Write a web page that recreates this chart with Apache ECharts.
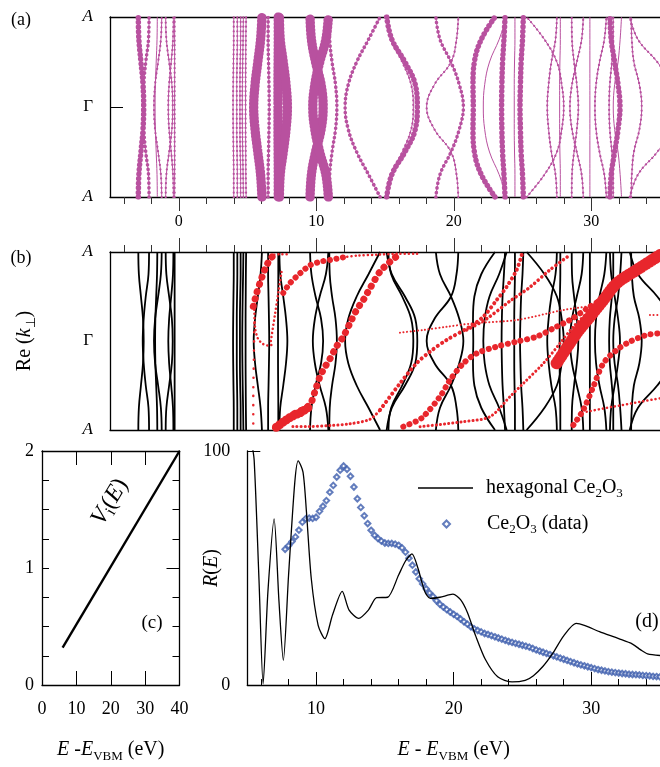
<!DOCTYPE html>
<html>
<head>
<meta charset="utf-8">
<script src="https://cdn.jsdelivr.net/npm/echarts@6/dist/echarts.min.js"></script>
<style>
  html, body { margin: 0; padding: 0; background: #fff; }
  #chart { width: 660px; height: 767px; }
</style>
</head>
<body>
<div id="chart"></div>
<script>
const serif = '"Liberation Serif", "Times New Roman", serif';
const magenta = '#b8519f';
const red = '#e8262c';
const blue = '#3c5cad';

// ticks shared by panels (a) and (b)
const xMajor = [0, 10, 20, 30];
const xMinor = [-4, -2, 2, 4, 6, 8, 12, 14, 16, 18, 22, 24, 26, 28, 32, 34];
const kTicks = [-1, 0, 1];

// band energies (eV) at k = 0 (Gamma), .25, .5, .75, 1 (A), mirrored below Gamma
const bandK = [0, 0.25, 0.5, 0.75, 1];
const bandE = [
  [-2.55, -2.6, -2.75, -2.9, -2.94],
  [-2.62, -2.55, -2.4, -2.2, -2.16],
  [-1.8, -1.72, -1.5, -1.3, -1.24],
  [-1.72, -1.7, -1.64, -1.58, -1.56],
  [-0.44, -0.5, -0.7, -0.9, -0.95],
  [-0.76, -0.7, -0.55, -0.42, -0.39],
  [-0.3, -0.3, -0.3, -0.3, -0.3],
  [3.95, 3.96, 3.98, 4.0, 4.0],
  [4.22, 4.22, 4.24, 4.26, 4.26],
  [4.45, 4.45, 4.47, 4.5, 4.5],
  [4.62, 4.63, 4.65, 4.68, 4.7],
  [4.86, 4.86, 4.87, 4.88, 4.9],
  [5.45, 5.55, 5.75, 5.95, 6.05],
  [6.58, 6.56, 6.53, 6.5, 6.5],
  [7.22, 7.22, 7.23, 7.24, 7.24],
  [7.9, 7.8, 7.6, 7.38, 7.32],
  [10.5, 10.35, 9.95, 9.65, 9.55],
  [9.75, 9.9, 10.25, 10.7, 10.88],
  [11.5, 11.4, 11.15, 10.98, 10.95],
  [12.1, 12.33, 12.94, 13.8, 14.64],
  [17.35, 17.2, 16.45, 15.5, 15.12],
  [17.06, 16.9, 16.25, 15.45, 15.25],
  [20.7, 20.4, 19.8, 19.0, 18.7],
  [18.03, 18.6, 19.8, 20.2, 20.33],
  [21.42, 21.4, 21.5, 22.0, 23.0],
  [22.15, 22.25, 22.6, 23.3, 23.85],
  [23.48, 23.5, 23.55, 23.65, 23.73],
  [24.4, 24.4, 24.42, 24.45, 24.45],
  [24.82, 24.85, 24.9, 25.0, 25.06],
  [28.0, 27.85, 27.5, 26.6, 25.3],
  [26.8, 26.9, 27.1, 27.4, 27.5],
  [27.7, 27.7, 27.72, 27.75, 27.75],
  [29.06, 28.95, 28.75, 28.6, 28.58],
  [28.45, 28.6, 28.95, 29.3, 29.42],
  [29.9, 29.9, 29.9, 29.9, 29.9],
  [30.27, 30.35, 30.6, 30.95, 31.1],
  [32.09, 31.95, 31.7, 31.45, 31.36],
  [31.3, 31.35, 31.5, 31.6, 31.6],
  [33.67, 33.5, 33.1, 32.95, 32.9],
  [36.5, 35.9, 34.8, 33.4, 32.8],
  [31.6, 31.7, 31.95, 32.1, 32.2]
];
// weight of the (a) dots: 0 none .. 4 heavy
const bandWeight = [3, 2, 1, 0, 1, 1, 1, 1, 1, 1, 1, 1, 4, 2, 4, 4, 4, 4, 2, 2,
  3, 1, 2, 1, 3, 0, 3, 0, 3, 1, 1, 0, 1, 1, 0, 1, 3, 1, 1, 1, 0];
const dotWidth = [0, 2.2, 3.6, 5.5, 9.5];
const dotGap = [0, 4.5, 4.5, 4.5, 3.5];

// red chains in (b): [E, k]
const redChains = [
  [[5.42, 0.39], [5.67, 0.54], [5.9, 0.65], [6.15, 0.76], [6.39, 0.85], [6.7, 0.93], [6.95, 0.97]],
  [[6.95, 0.97], [7.5, 0.975], [8.1, 0.975]],
  [[5.5, 0.35], [5.55, 0.15], [5.75, 0.03], [6.1, -0.03], [6.5, -0.05], [6.9, -0.04]],
  [[6.7, 0.0], [7.0, 0.3], [7.25, 0.55], [7.5, 0.8]],
  [[5.5, 0.2], [5.45, -0.3], [5.42, -0.6], [5.42, -0.95]],
  [[7.1, -0.97], [7.5, -0.92], [8.0, -0.86], [8.6, -0.8], [9.2, -0.76], [9.6, -0.7], [9.9, -0.57],
   [10.27, -0.4], [10.64, -0.29], [11.0, -0.2], [11.48, -0.06], [11.97, 0.05], [12.45, 0.2],
   [12.94, 0.35], [13.42, 0.46], [13.9, 0.59], [14.64, 0.78], [15.36, 0.89], [16.1, 0.98]],
  [[7.1, -0.97], [7.6, -0.91], [8.2, -0.85], [8.9, -0.8], [9.4, -0.75]],
  [[7.6, 0.54], [8.09, 0.65], [8.82, 0.76], [9.55, 0.85], [10.27, 0.89], [11.0, 0.91], [11.97, 0.94]],
  [[11.97, 0.94], [13.0, 0.96], [14.5, 0.97], [16.0, 0.98], [17.5, 0.98]],
  [[8.3, -0.96], [9.5, -0.96], [11.0, -0.95], [12.45, -0.93], [13.9, -0.88], [14.64, -0.775]],
  [[14.64, -0.775], [16.09, -0.476], [17.3, -0.25], [18.27, -0.12], [19.48, 0.011], [21.18, 0.161],
   [22.15, 0.273], [23.12, 0.46], [23.85, 0.61], [24.58, 0.8], [24.94, 0.966]],
  [[16.33, -0.963], [17.3, -0.9], [17.79, -0.85], [19.0, -0.625], [19.73, -0.438], [20.7, -0.251],
   [21.67, -0.139], [23.12, -0.064], [24.58, -0.007], [26.03, 0.049], [27.48, 0.161], [28.45, 0.236],
   [29.91, 0.386], [31.12, 0.498]],
  [[17.55, -0.963], [20.7, -0.906], [22.64, -0.85], [24.09, -0.625], [25.06, -0.476], [26.52, -0.251],
   [27.73, -0.026], [28.7, 0.161], [29.91, 0.348], [30.88, 0.498]],
  [[16.09, 0.094], [17.79, 0.124], [19.5, 0.16], [21.5, 0.2], [24.58, 0.236], [27.97, 0.348],
   [30.39, 0.404], [31.12, 0.44]],
  [[34.27, 0.292], [35.0, 0.292]],
  [[20.94, 0.124], [22.4, 0.25], [24.1, 0.45], [25.5, 0.6], [27.0, 0.8], [28.45, 0.966]],
  [[28.7, -0.944], [29.42, -0.775], [30.15, -0.513], [30.88, -0.251], [31.85, -0.101], [32.82, -0.007],
   [34.03, 0.067], [35.0, 0.087]],
  [[29.67, -0.794], [31.6, -0.738], [35.0, -0.644]],
  [[27.48, -0.251], [28.94, 0.087], [29.91, 0.273], [30.88, 0.46], [31.85, 0.648], [33.3, 0.798], [35.0, 0.966]]
];
const redWidth = [7, 2.5, 2.5, 2.5, 2.5, 7, 9, 6, 2.5, 3, 4, 6, 3, 2, 2, 3.5, 6, 2.5, 12];
const redGap = [7.5, 4, 4, 4, 9, 7.5, 4, 6.5, 4, 4, 5, 6.5, 4, 3.5, 3.5, 4.5, 6.5, 4, 3];

// (c) imaginary potential
const viE = [6, 40];
const viV = [0.32, 2];

// (d) reflectivity, calculation
const hexE = [5.0, 5.3, 5.5, 5.85, 6.15, 6.5, 6.95, 7.3, 7.62, 8.0, 8.45, 8.7, 9.05, 9.3, 9.65,
  10.15, 10.64, 11.2, 11.9, 12.4, 13.1, 13.8, 14.4, 15.2, 16.0, 16.5, 16.97, 17.4, 17.9, 18.3,
  19.0, 19.95, 20.5, 21.0, 21.6, 22.3, 23.2, 24.25, 25.2, 25.8, 26.5, 27.2, 28.0, 28.9, 29.5,
  30.6, 32.0, 33.0, 33.6, 34.1, 35.0];
const hexR = [112, 104, 96, 45, 0.5, 40, 71, 36, 10.5, 47, 86.5, 95.8, 91, 74, 45.5,
  25.5, 19.8, 30, 40, 32, 28.5, 32, 37.3, 37.5, 47, 53, 56, 50, 40, 37,
  37.5, 38.8, 36.5, 31, 21, 11, 3.5, 1.3, 2, 4, 8, 13.5, 21, 26.3, 25.5,
  22.8, 19.8, 17.5, 15, 13.3, 12.6];

// (d) reflectivity, measured
const ceE = [7.75, 8, 8.25, 8.5, 8.75, 9, 9.25, 9.5, 9.75, 10, 10.25, 10.5, 10.75, 11, 11.25, 11.5,
  11.75, 12, 12.25, 12.5, 12.75, 13, 13.25, 13.5, 13.75, 14, 14.25, 14.5, 14.75, 15, 15.25, 15.5,
  15.75, 16, 16.25, 16.5, 16.75, 17, 17.25, 17.5, 17.75, 18, 18.25, 18.5, 18.75, 19, 19.25, 19.5,
  19.75, 20, 20.25, 20.5, 20.75, 21, 21.25, 21.5, 21.75, 22, 22.25, 22.5, 22.75, 23, 23.25, 23.5,
  23.75, 24, 24.25, 24.5, 24.75, 25, 25.25, 25.5, 25.75, 26, 26.25, 26.5, 26.75, 27, 27.25, 27.5,
  27.75, 28, 28.25, 28.5, 28.75, 29, 29.25, 29.5, 29.75, 30, 30.25, 30.5, 30.75, 31, 31.25, 31.5,
  31.75, 32, 32.25, 32.5, 32.75, 33, 33.25, 33.5, 33.75, 34, 34.25, 34.5, 34.75, 35];
const ceR = [58.0, 59.5, 61.3, 63.3, 66.2, 69.6, 71.1, 71.3, 71.2, 71.7, 74.2, 76.4, 78.8, 82.4, 85.3, 88.9,
  91.8, 93.6, 92.2, 89.2, 84.6, 79.6, 75.9, 72.3, 69.0, 66.1, 64.0, 62.6, 61.5, 60.7, 60.5, 60.5,
  60.2, 59.7, 58.6, 56.8, 54.2, 51.2, 48.3, 45.4, 43.2, 41.1, 39.3, 37.8, 36.0, 34.5, 33.3, 32.2,
  31.2, 30.2, 29.3, 28.2, 27.0, 26.0, 24.9, 24.0, 23.3, 22.7, 22.0, 21.6, 21.1, 20.6, 20.1, 19.6,
  19.1, 18.6, 18.2, 17.8, 17.4, 17.0, 16.6, 16.2, 15.6, 15.0, 14.5, 14.0, 13.5, 13.0, 12.5, 12.0,
  11.5, 11.0, 10.5, 10.0, 9.5, 9.0, 8.6, 8.2, 7.8, 7.4, 7.0, 6.6, 6.3, 6.0, 5.7, 5.5,
  5.3, 5.1, 4.9, 4.8, 4.6, 4.5, 4.4, 4.3, 4.1, 4.0, 3.9, 3.7, 3.6, 3.5];
const dMajor = [10, 20, 30];
const dMinor = [6, 8, 12, 14, 16, 18, 22, 24, 26, 28, 32, 34];

function fullBand(e) {
  const pts = [];
  for (let i = bandK.length - 1; i >= 0; i--) pts.push([e[i], -bandK[i]]);
  for (let i = 1; i < bandK.length; i++) pts.push([e[i], bandK[i]]);
  return pts;
}

function richAt(size) {
  return {
    i: { fontStyle: 'italic', fontFamily: serif, fontSize: size },
    n: { fontFamily: serif, fontSize: size },
    s: { fontSize: Math.round(size * 0.65), fontFamily: serif, verticalAlign: 'bottom', lineHeight: 13 }
  };
}
const rich = richAt(20);
const axisLine = { show: true, onZero: false, lineStyle: { color: '#000', width: 1.3 } };
const noLine = { show: false, onZero: false };
const hideLabel = { show: false };
const kLabel = {
  customValues: kTicks, margin: 17, fontSize: 17, color: '#000', fontFamily: serif,
  formatter: v => (v === 0 ? 'Γ' : '{i|A}'), rich: { i: { fontStyle: 'italic', fontSize: 17, fontFamily: serif } }
};

const series = [];
bandE.forEach((e, i) => {
  const pts = fullBand(e);
  const w = bandWeight[i];
  series.push({ type: 'line', xAxisIndex: 0, yAxisIndex: 0, data: pts, smooth: 0.4, showSymbol: false,
    lineStyle: { color: magenta, width: 1 } });
  if (w > 0) {
    series.push({ type: 'line', xAxisIndex: 0, yAxisIndex: 0, data: pts, smooth: 0.4, showSymbol: false,
      lineStyle: { color: magenta, width: dotWidth[w], type: [0.1, dotGap[w]], cap: 'round' } });
  }
  series.push({ type: 'line', xAxisIndex: 3, yAxisIndex: 1, data: pts, smooth: 0.4, showSymbol: false,
    lineStyle: { color: '#000', width: 1.8 } });
});
redChains.forEach((c, i) => {
  series.push({ type: 'line', xAxisIndex: 3, yAxisIndex: 1, data: c, smooth: 0.3, showSymbol: false,
    lineStyle: { color: red, width: redWidth[i], type: [0.1, redGap[i]], cap: 'round' } });
});
series.push({ type: 'line', xAxisIndex: 6, yAxisIndex: 2, data: viE.map((e, i) => [e, viV[i]]),
  showSymbol: false, lineStyle: { color: '#000', width: 2.4 } });
series.push({ name: 'hexagonal', type: 'line', xAxisIndex: 8, yAxisIndex: 5, symbol: 'none',
  data: hexE.map((e, i) => [e, hexR[i]]), smooth: 0.25, itemStyle: { color: '#000' },
  lineStyle: { color: '#000', width: 1.3 }, z: 3 });
series.push({ name: 'data', type: 'scatter', xAxisIndex: 8, yAxisIndex: 5, symbol: 'emptyDiamond',
  symbolSize: 5.5, data: ceE.map((e, i) => [e, ceR[i]]),
  itemStyle: { color: blue, borderColor: blue, borderWidth: 1.3 }, z: 2 });

const legendText = { fontSize: 20, fontFamily: serif, color: '#000', lineHeight: 24, rich };

const chart = echarts.init(document.getElementById('chart'));
chart.setOption({
  animation: false,
  backgroundColor: '#fff',
  grid: [
    { left: 110, right: 0, top: 17, height: 180 },
    { left: 110, right: 0, top: 252, height: 178 },
    { left: 42, width: 137.5, top: 451, height: 234 },
    { left: 247.3, right: 0, top: 451, height: 234 }
  ],
  xAxis: [
    { gridIndex: 0, type: 'value', min: -5, max: 35, position: 'bottom', axisLine,
      splitLine: { show: false },
      axisTick: { customValues: xMajor, length: 14, lineStyle: { color: '#333' } },
      axisLabel: { customValues: xMajor, margin: 17, fontSize: 16, color: '#000', fontFamily: serif } },
    { gridIndex: 0, type: 'value', min: -5, max: 35, position: 'bottom', axisLine: noLine,
      splitLine: { show: false }, axisLabel: hideLabel,
      axisTick: { customValues: xMinor, length: 7, lineStyle: { color: '#333' } } },
    { gridIndex: 0, type: 'value', min: -5, max: 35, position: 'top', axisLine,
      splitLine: { show: false }, axisLabel: hideLabel, axisTick: { show: false } },
    { gridIndex: 1, type: 'value', min: -5, max: 35, position: 'bottom', axisLine,
      splitLine: { show: false }, axisLabel: hideLabel, axisTick: { show: false } },
    { gridIndex: 1, type: 'value', min: -5, max: 35, position: 'top', axisLine,
      splitLine: { show: false }, axisLabel: hideLabel,
      axisTick: { customValues: xMajor, length: 14, lineStyle: { color: '#333' } } },
    { gridIndex: 1, type: 'value', min: -5, max: 35, position: 'top', axisLine: noLine,
      splitLine: { show: false }, axisLabel: hideLabel,
      axisTick: { customValues: xMinor, length: 7, lineStyle: { color: '#333' } } },
    { gridIndex: 2, type: 'value', min: 0, max: 40, interval: 10, position: 'bottom', axisLine,
      splitLine: { show: false },
      axisTick: { inside: true, length: 14, lineStyle: { color: '#000' } },
      axisLabel: { margin: 15, fontSize: 18, color: '#000', fontFamily: serif },
      name: '{i|E} -{i|E}{s|VBM} (eV)', nameLocation: 'middle', nameGap: 52, nameMoveOverlap: false,
      nameTextStyle: { fontSize: 20, fontFamily: serif, color: '#000', lineHeight: 26, rich } },
    { gridIndex: 2, type: 'value', min: 0, max: 40, interval: 10, position: 'top', axisLine,
      splitLine: { show: false }, axisLabel: hideLabel,
      axisTick: { inside: true, length: 14, lineStyle: { color: '#000' } } },
    { gridIndex: 3, type: 'value', min: 5, max: 35, position: 'bottom', axisLine,
      splitLine: { show: false },
      axisTick: { inside: true, customValues: dMajor, length: 13, lineStyle: { color: '#000' } },
      axisLabel: { customValues: dMajor, margin: 15, fontSize: 18, color: '#000', fontFamily: serif },
      name: '{i|E} - {i|E}{s|VBM} (eV)', nameLocation: 'middle', nameGap: 52, nameMoveOverlap: false,
      nameTextStyle: { fontSize: 20, fontFamily: serif, color: '#000', lineHeight: 26, rich } },
    { gridIndex: 3, type: 'value', min: 5, max: 35, position: 'bottom', axisLine: noLine,
      splitLine: { show: false }, axisLabel: hideLabel,
      axisTick: { inside: true, customValues: dMinor, length: 6, lineStyle: { color: '#000' } } }
  ],
  yAxis: [
    { gridIndex: 0, type: 'value', min: -1, max: 1, axisLine, splitLine: { show: false },
      axisTick: { inside: true, customValues: [0], length: 13, lineStyle: { color: '#000' } },
      axisLabel: kLabel },
    { gridIndex: 1, type: 'value', min: -1, max: 1, axisLine, splitLine: { show: false },
      axisTick: { show: false }, axisLabel: kLabel,
      name: '{n|Re (}{i|k}{s|⊥}{n|)}', nameLocation: 'middle', nameRotate: 90, nameGap: 72,
      nameMoveOverlap: false,
      nameTextStyle: { fontSize: 20, fontFamily: serif, color: '#000', lineHeight: 26, rich } },
    { gridIndex: 2, type: 'value', min: 0, max: 2, interval: 0.25, axisLine, splitLine: { show: false },
      axisTick: { inside: true, length: 7, lineStyle: { color: '#000' } },
      axisLabel: { customValues: [0, 1, 2], margin: 8, fontSize: 18, color: '#000', fontFamily: serif } },
    { gridIndex: 2, type: 'value', min: 0, max: 2, axisLine: noLine, splitLine: { show: false },
      axisLabel: hideLabel,
      axisTick: { inside: true, customValues: [1], length: 13, lineStyle: { color: '#000' } } },
    { gridIndex: 2, type: 'value', min: 0, max: 2, interval: 0.25, position: 'right', axisLine,
      splitLine: { show: false }, axisLabel: hideLabel,
      axisTick: { inside: true, length: 7, lineStyle: { color: '#000' } } },
    { gridIndex: 3, type: 'value', min: 0, max: 100, axisLine, splitLine: { show: false },
      axisTick: { inside: true, customValues: [100], length: 13, lineStyle: { color: '#000' } },
      axisLabel: { customValues: [0, 100], margin: 17, fontSize: 18, color: '#000', fontFamily: serif },
      name: '{i|R}({i|E})', nameLocation: 'middle', nameRotate: 90, nameGap: 23, nameMoveOverlap: false,
      nameTextStyle: { fontSize: 20, fontFamily: serif, color: '#000', lineHeight: 26, rich } }
  ],
  legend: [
    { left: 413, top: 471, itemWidth: 55, itemHeight: 1.4, selectedMode: false,
      data: [{ name: 'hexagonal', icon: 'rect', itemStyle: { color: '#000' } }],
      formatter: () => 'hexagonal Ce{s|2}O{s|3}',
      textStyle: Object.assign({ padding: [0, 0, 0, 8] }, legendText) },
    { left: 437, top: 507, itemWidth: 7, itemHeight: 7, selectedMode: false,
      data: [{ name: 'data', icon: 'emptyDiamond' }],
      formatter: () => 'Ce{s|2}O{s|3} (data)',
      textStyle: Object.assign({ padding: [0, 0, 0, 32] }, legendText) }
  ],
  graphic: [
    { type: 'text', x: 21, y: 20, style: { text: '(a)', font: '18px ' + serif, align: 'center', verticalAlign: 'middle' } },
    { type: 'text', x: 21, y: 258, style: { text: '(b)', font: '18px ' + serif, align: 'center', verticalAlign: 'middle' } },
    { type: 'text', x: 152, y: 623, style: { text: '(c)', font: '19px ' + serif, align: 'center', verticalAlign: 'middle' } },
    { type: 'text', x: 647, y: 622, style: { text: '(d)', font: '20px ' + serif, align: 'center', verticalAlign: 'middle' } },
    { type: 'text', x: 110, y: 502, rotation: 59 * Math.PI / 180,
      style: { text: '{i|V}{s|i}{n|(}{i|E}{n|)}', fontSize: 24, fontFamily: serif, lineHeight: 28,
        align: 'center', verticalAlign: 'middle', rich: richAt(24) } }
  ],
  series
});
</script>
</body>
</html>
